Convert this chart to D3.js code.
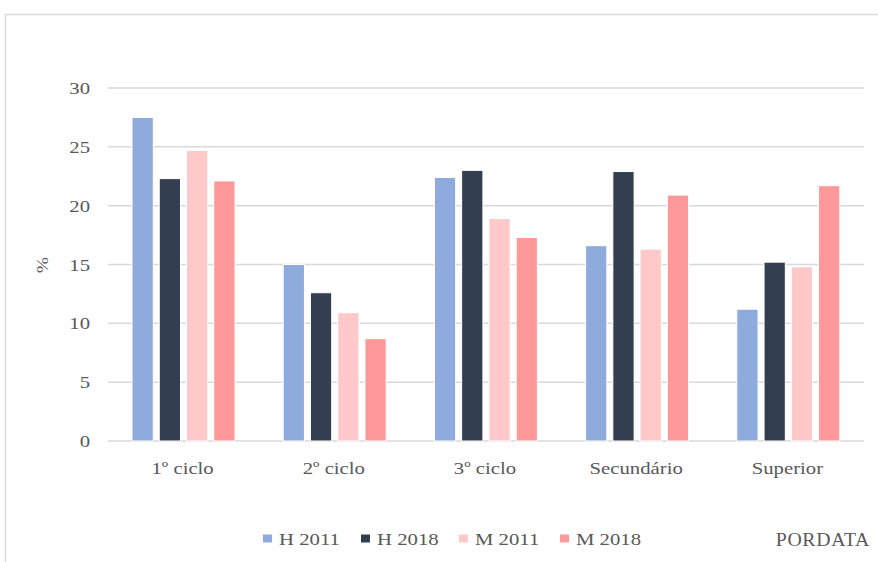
<!DOCTYPE html>
<html>
<head>
<meta charset="utf-8">
<script src="https://cdn.jsdelivr.net/npm/d3@7"></script>
<style>
  body { margin: 0; background: #fff; }
</style>
</head>
<body>
<script>
var categories = ["1º ciclo", "2º ciclo", "3º ciclo", "Secundário", "Superior"];
var series = ["H 2011", "H 2018", "M 2011", "M 2018"];
var colors = ["#8faadc", "#333f50", "#ffc9c9", "#ff9999"];
var h2011 = [27.5, 15.0, 22.4, 16.6, 11.2];
var h2018 = [22.3, 12.6, 23.0, 22.9, 15.2];
var m2011 = [24.7, 10.9, 18.9, 16.3, 14.8];
var m2018 = [22.1, 8.7, 17.3, 20.9, 21.7];
var yTicks = [0, 5, 10, 15, 20, 25, 30];

var values = [h2011, h2018, m2011, m2018];
var data = categories.map(function(c, i) {
  return { cat: c, vals: series.map(function(s, j) { return { s: s, v: values[j][i], c: colors[j] }; }) };
});

var svg = d3.select("body").append("svg")
  .attr("width", 878)
  .attr("height", 562)
  .attr("font-family", "'Liberation Serif', 'Times New Roman', serif");

// text in the picture is slightly stretched horizontally
var sx = 1.22;
function place(x, y) { return "translate(" + x + "," + y + ") scale(" + sx + ",1)"; }

// frame
svg.append("path")
  .attr("d", "M5.5,562V14.5H878")
  .attr("fill", "none")
  .attr("stroke", "#d9d9d9")
  .attr("stroke-width", 1.5);

var plotLeft = 108, plotRight = 864, plotTop = 88, plotBottom = 441;

var x0 = d3.scaleBand().domain(categories).range([plotLeft, plotRight]);
var x1 = d3.scaleBand().domain(series).range([24, 127]).paddingInner(0.22);
var y = d3.scaleLinear().domain([0, 30]).range([plotBottom, plotTop]);

// gridlines
svg.append("g").selectAll("line")
  .data(yTicks)
  .enter().append("line")
  .attr("x1", plotLeft).attr("x2", plotRight)
  .attr("y1", function(d) { return y(d); })
  .attr("y2", function(d) { return y(d); })
  .attr("stroke", "#d9d9d9")
  .attr("stroke-width", 1.5);

// y labels
svg.append("g").selectAll("text")
  .data(yTicks)
  .enter().append("text")
  .attr("transform", function(d) { return place(90, y(d) + 6); })
  .attr("text-anchor", "end")
  .attr("fill", "#595959")
  .attr("font-size", 17)
  .text(function(d) { return d; });

svg.append("text")
  .attr("transform", "translate(48,265) rotate(-90) scale(1.15,1)")
  .attr("text-anchor", "middle")
  .attr("fill", "#595959")
  .attr("font-size", 17)
  .text("%");

// bars
var groups = svg.append("g").selectAll("g")
  .data(data)
  .enter().append("g")
  .attr("transform", function(d) { return "translate(" + x0(d.cat) + ",0)"; });

groups.selectAll("rect")
  .data(function(d) { return d.vals; })
  .enter().append("rect")
  .attr("x", function(d) { return x1(d.s); })
  .attr("y", function(d) { return y(d.v); })
  .attr("width", x1.bandwidth())
  .attr("height", function(d) { return y(0) - y(d.v); })
  .attr("fill", function(d) { return d.c; })
  .attr("stroke", "#fff")
  .attr("stroke-width", 1);

// x labels
svg.append("g").selectAll("text")
  .data(categories)
  .enter().append("text")
  .attr("transform", function(d) { return place(x0(d) + x0.bandwidth() / 2 - 1, 474); })
  .attr("text-anchor", "middle")
  .attr("fill", "#595959")
  .attr("font-size", 17)
  .text(function(d) { return d; });

// legend
var legendX = [263, 361, 459, 560];
var legend = svg.append("g").selectAll("g")
  .data(series)
  .enter().append("g")
  .attr("transform", function(d, i) { return "translate(" + legendX[i] + ",538.5)"; });

legend.append("rect")
  .attr("x", 0).attr("y", -4)
  .attr("width", 9).attr("height", 8)
  .attr("fill", function(d, i) { return colors[i]; });

legend.append("text")
  .attr("transform", place(16, 6))
  .attr("fill", "#595959")
  .attr("font-size", 17)
  .text(function(d) { return d; });

svg.append("text")
  .attr("transform", "translate(870,546) scale(1.1,1)")
  .attr("text-anchor", "end")
  .attr("fill", "#595959")
  .attr("font-size", 18)
  .attr("letter-spacing", 0.6)
  .text("PORDATA");
</script>
</body>
</html>
